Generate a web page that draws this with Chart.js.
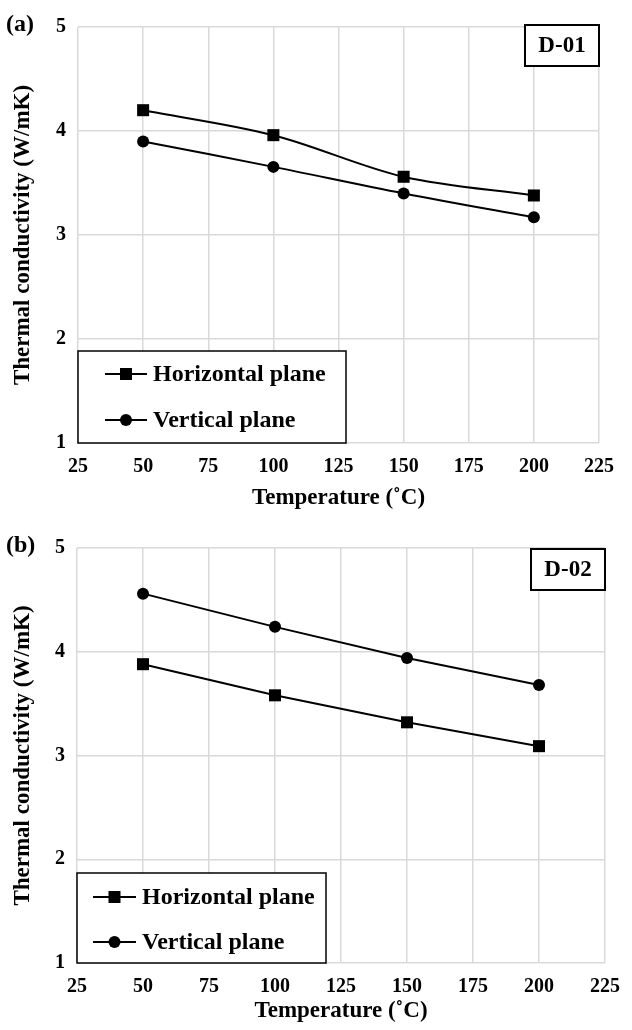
<!DOCTYPE html>
<html>
<head>
<meta charset="utf-8">
<script src="https://cdn.jsdelivr.net/npm/chart.js@4/dist/chart.umd.min.js"></script>
<style>
  body { margin: 0; background: #fff; }
  .panel { position: relative; width: 632px; }
  canvas { display: block; }
</style>
</head>
<body>
<div class="panel"><canvas id="chart-a" width="632" height="521"></canvas></div>
<div class="panel"><canvas id="chart-b" width="632" height="509"></canvas></div>

<script>
const temperatures = [50, 100, 150, 200];
const xTickValues = [25, 50, 75, 100, 125, 150, 175, 200, 225];
const yTickValues = [1, 2, 3, 4, 5];

const d01Horizontal = [4.20, 3.96, 3.56, 3.38];
const d01Vertical = [3.90, 3.655, 3.40, 3.17];
const d02Horizontal = [3.88, 3.58, 3.32, 3.09];
const d02Vertical = [4.56, 4.24, 3.94, 3.68];

const seriesNames = ['Horizontal plane', 'Vertical plane'];

const FONT = '"Liberation Serif", "Times New Roman", serif';

function toPoints(values) {
    return temperatures.map((t, i) => ({ x: t, y: values[i] }));
}

function drawMarker(ctx, style, x, y) {
    ctx.fillStyle = '#000';
    ctx.beginPath();
    if (style === 'rect') {
        ctx.rect(x - 6, y - 6, 12, 12);
    } else {
        ctx.arc(x, y, 6, 0, Math.PI * 2);
    }
    ctx.fill();
}

// panel letter, sample tag box and boxed legend inside the plot
const extrasPlugin = {
    id: 'extras',
    afterDraw(chart, args, opts) {
        const ctx = chart.ctx;
        const area = chart.chartArea;
        ctx.save();

        ctx.font = 'bold 24px ' + FONT;
        ctx.fillStyle = '#000';
        ctx.textAlign = 'left';
        ctx.textBaseline = 'middle';
        ctx.fillText(opts.letter, opts.letterX, area.top - 2);

        // tag box
        const bw = 74, bh = 41;
        const bx = area.right - bw;
        const by = area.top + opts.tagDy;
        ctx.fillStyle = '#fff';
        ctx.fillRect(bx, by, bw, bh);
        ctx.strokeStyle = '#000';
        ctx.lineWidth = 2;
        ctx.strokeRect(bx, by, bw, bh);
        ctx.fillStyle = '#000';
        ctx.textAlign = 'center';
        ctx.font = 'bold 23px ' + FONT;
        ctx.fillText(opts.tag, bx + bw / 2, by + bh / 2 + 1);

        // legend
        const lg = opts.legend;
        const lx = area.left;
        const ly = area.bottom - lg.h;
        ctx.fillStyle = '#fff';
        ctx.fillRect(lx, ly, lg.w, lg.h);
        ctx.lineWidth = 1.5;
        ctx.strokeRect(lx, ly, lg.w, lg.h);
        ctx.font = 'bold 24px ' + FONT;
        ctx.textAlign = 'left';
        chart.data.datasets.forEach((ds, i) => {
            const y = ly + lg.rows[i];
            ctx.strokeStyle = '#000';
            ctx.lineWidth = 2;
            ctx.beginPath();
            ctx.moveTo(lx + lg.lineStart, y);
            ctx.lineTo(lx + lg.lineEnd, y);
            ctx.stroke();
            drawMarker(ctx, ds.pointStyle, lx + (lg.lineStart + lg.lineEnd) / 2, y);
            ctx.fillStyle = '#000';
            ctx.fillText(ds.label, lx + lg.text, y + 1);
        });
        ctx.restore();
    }
};

function makeChart(id, horizontal, vertical, cfg) {
    const ctx = document.getElementById(id).getContext('2d');
    const lineBase = {
        borderColor: '#000',
        backgroundColor: '#000',
        borderWidth: 2,
        pointBackgroundColor: '#000',
        pointBorderColor: '#000',
        pointBorderWidth: 0,
        tension: cfg.tension,
        fill: false
    };

    new Chart(ctx, {
        type: 'line',
        data: {
            datasets: [
                Object.assign({ label: seriesNames[0], data: toPoints(horizontal), pointStyle: 'rect', pointRadius: 8.5 }, lineBase),
                Object.assign({ label: seriesNames[1], data: toPoints(vertical), pointStyle: 'circle', pointRadius: 6 }, lineBase)
            ]
        },
        plugins: [extrasPlugin],
        options: {
            responsive: false,
            animation: false,
            layout: { padding: { top: 27, right: cfg.right, left: 0, bottom: 0 } },
            plugins: {
                legend: { display: false },
                tooltip: { enabled: false },
                extras: cfg.extras
            },
            scales: {
                x: {
                    type: 'linear',
                    min: 25,
                    max: 225,
                    afterBuildTicks: s => { s.ticks = xTickValues.map(v => ({ value: v })); },
                    afterFit: s => { s.height = cfg.xHeight; },
                    grid: { color: '#d9d9d9', lineWidth: 1.5, drawTicks: false },
                    border: { display: false },
                    ticks: { color: '#000', padding: cfg.xTickPad, font: { family: FONT, size: 20, weight: 'bold' }, maxRotation: 0 },
                    title: { display: true, text: 'Temperature (˚C)', color: '#000', padding: { top: 0, bottom: cfg.xTitlePad }, font: { family: FONT, size: 23, weight: 'bold' } }
                },
                y: {
                    min: 1,
                    max: 5,
                    afterBuildTicks: s => { s.ticks = yTickValues.map(v => ({ value: v })); },
                    afterFit: s => { s.width = cfg.yWidth; },
                    grid: { color: '#d9d9d9', lineWidth: 1.5, drawTicks: false },
                    border: { display: false },
                    ticks: { color: '#000', padding: 12, font: { family: FONT, size: 20, weight: 'bold' } },
                    title: { display: true, text: 'Thermal conductivity (W/mK)', color: '#000', padding: { top: 9, bottom: 0 }, font: { family: FONT, size: 23, weight: 'bold' } }
                }
            }
        }
    });
}

makeChart('chart-a', d01Horizontal, d01Vertical, {
    tension: 0.33,
    right: 33,
    yWidth: 78,
    xHeight: 78,
    xTickPad: 12,
    xTitlePad: 9,
    extras: {
        letter: '(a)', letterX: 6, tag: 'D-01', tagDy: -2,
        legend: { w: 268, h: 92, rows: [23, 69], lineStart: 27, lineEnd: 69, text: 75 }
    }
});

makeChart('chart-b', d02Horizontal, d02Vertical, {
    tension: 0,
    right: 16,
    yWidth: 77,
    xHeight: 67,
    xTickPad: 12,
    xTitlePad: 5,
    extras: {
        letter: '(b)', letterX: 6, tag: 'D-02', tagDy: 1,
        legend: { w: 249, h: 90, rows: [24, 69], lineStart: 16, lineEnd: 59, text: 65 }
    }
});
</script>
</body>
</html>
